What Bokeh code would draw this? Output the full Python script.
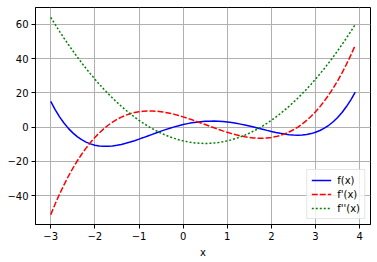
from bokeh.plotting import figure
from bokeh.models import Range1d, FixedTicker, ColumnDataSource
from bokeh.embed import file_html
from bokeh.resources import INLINE

x = [-3.0, -2.9, -2.8, -2.7, -2.6, -2.5, -2.4, -2.3, -2.2, -2.1,
     -2.0, -1.9, -1.8, -1.7, -1.6, -1.5, -1.4, -1.3, -1.2, -1.1,
     -1.0, -0.9, -0.8, -0.7, -0.6, -0.5, -0.4, -0.3, -0.2, -0.1,
     0.0, 0.1, 0.2, 0.3, 0.4, 0.5, 0.6, 0.7, 0.8, 0.9,
     1.0, 1.1, 1.2, 1.3, 1.4, 1.5, 1.6, 1.7, 1.8, 1.9,
     2.0, 2.1, 2.2, 2.3, 2.4, 2.5, 2.6, 2.7, 2.8, 2.9,
     3.0, 3.1, 3.2, 3.3, 3.4, 3.5, 3.6, 3.7, 3.8, 3.9]

f = [15.0, 10.21, 6.02, 2.40, -0.72, -3.34, -5.53, -7.30, -8.70, -9.75,
     -10.5, -10.96, -11.18, -11.17, -10.97, -10.59, -10.08, -9.43, -8.70, -7.88,
     -7.0, -6.08, -5.14, -4.20, -3.26, -2.34, -1.46, -0.63, 0.15, 0.86,
     1.5, 2.06, 2.53, 2.92, 3.21, 3.41, 3.51, 3.52, 3.43, 3.26,
     3.0, 2.66, 2.25, 1.77, 1.24, 0.66, 0.04, -0.60, -1.24, -1.88,
     -2.5, -3.08, -3.60, -4.03, -4.38, -4.59, -4.67, -4.57, -4.28, -3.76,
     -3.0, -1.95, -0.60, 1.10, 3.17, 5.66, 8.58, 12.00, 15.92, 20.41]

df = [-51.0, -44.81, -39.02, -33.64, -28.63, -24.0, -19.73, -15.80, -12.22, -8.95,
      -6.0, -3.35, -0.98, 1.10, 2.93, 4.5, 5.83, 6.94, 7.82, 8.51,
      9.0, 9.31, 9.46, 9.44, 9.29, 9.0, 8.59, 8.08, 7.46, 6.77,
      6.0, 5.17, 4.30, 3.38, 2.45, 1.5, 0.55, -0.38, -1.30, -2.17,
      -3.0, -3.77, -4.46, -5.08, -5.59, -6.0, -6.29, -6.44, -6.46, -6.31,
      -6.0, -5.51, -4.82, -3.94, -2.83, -1.5, 0.07, 1.90, 3.98, 6.35,
      9.0, 11.95, 15.22, 18.80, 22.73, 27.0, 31.63, 36.64, 42.02, 47.81]

d2f = [64.0, 59.86, 55.84, 51.94, 48.16, 44.5, 40.96, 37.54, 34.24, 31.06,
       28.0, 25.06, 22.24, 19.54, 16.96, 14.5, 12.16, 9.94, 7.84, 5.86,
       4.0, 2.26, 0.64, -0.86, -2.24, -3.5, -4.64, -5.66, -6.56, -7.34,
       -8.0, -8.54, -8.96, -9.26, -9.44, -9.5, -9.44, -9.26, -8.96, -8.54,
       -8.0, -7.34, -6.56, -5.66, -4.64, -3.5, -2.24, -0.86, 0.64, 2.26,
       4.0, 5.86, 7.84, 9.94, 12.16, 14.5, 16.96, 19.54, 22.24, 25.06,
       28.0, 31.06, 34.24, 37.54, 40.96, 44.5, 48.16, 51.94, 55.84, 59.86]

series_labels = ["f(x)", "f'(x)", "f''(x)"]
x_ticks = [-3, -2, -1, 0, 1, 2, 3, 4]
x_tick_labels = ["\u22123", "\u22122", "\u22121", "0", "1", "2", "3", "4"]
y_ticks = [-40, -20, 0, 20, 40, 60]
y_tick_labels = ["\u221240", "\u221220", "0", "20", "40", "60"]

src = ColumnDataSource(data=dict(x=x, f=f, df=df, d2f=d2f))

p = figure(width=377, height=262, output_backend="svg", toolbar_location=None,
           x_range=Range1d(-3.345, 4.245), y_range=Range1d(-56.75, 69.75),
           min_border_left=35, min_border_right=7, min_border_top=7, min_border_bottom=38)
p.background_fill_color = "white"
p.border_fill_color = "white"
p.outline_line_color = "black"
p.outline_line_width = 1

p.line("x", "f", source=src, line_color="#0000ff", line_width=1.5, legend_label=series_labels[0])
p.line("x", "df", source=src, line_color="#ff0000", line_width=1.5, line_dash="6 2", legend_label=series_labels[1])
p.line("x", "d2f", source=src, line_color="#008000", line_width=1.5, line_dash="2 2", legend_label=series_labels[2])

for ax, ticks, labels in ((p.xaxis[0], x_ticks, x_tick_labels), (p.yaxis[0], y_ticks, y_tick_labels)):
    ax.ticker = FixedTicker(ticks=ticks)
    ax.major_label_overrides = {t: l for t, l in zip(ticks, labels)}
    ax.major_label_text_font = "DejaVu Sans"
    ax.major_label_text_font_size = "10px"
    ax.major_label_text_color = "black"
    ax.major_tick_in = 0
    ax.major_tick_out = 4
    ax.major_tick_line_color = "black"
    ax.minor_tick_line_color = None
    ax.axis_line_color = "black"
    ax.major_label_standoff = 3

p.xaxis.axis_label = "x"
p.xaxis.axis_label_text_font = "DejaVu Sans"
p.xaxis.axis_label_text_font_size = "10px"
p.xaxis.axis_label_text_font_style = "normal"
p.xaxis.axis_label_text_color = "black"
p.xaxis.axis_label_standoff = 4

p.xgrid.ticker = FixedTicker(ticks=x_ticks)
p.ygrid.ticker = FixedTicker(ticks=y_ticks)
p.grid.grid_line_color = "#b0b0b0"
p.grid.grid_line_width = 1

lg = p.legend[0]
lg.location = "bottom_right"
lg.margin = 5
lg.padding = 4
lg.spacing = 2
lg.glyph_width = 20
lg.glyph_height = 12
lg.label_height = 12
lg.label_standoff = 6
lg.label_text_font = "DejaVu Sans"
lg.label_text_font_size = "10px"
lg.label_text_color = "black"
lg.border_line_color = "#cccccc"
lg.border_line_width = 1
lg.background_fill_alpha = 0.8

open("out.html", "w").write(file_html(p, INLINE))
